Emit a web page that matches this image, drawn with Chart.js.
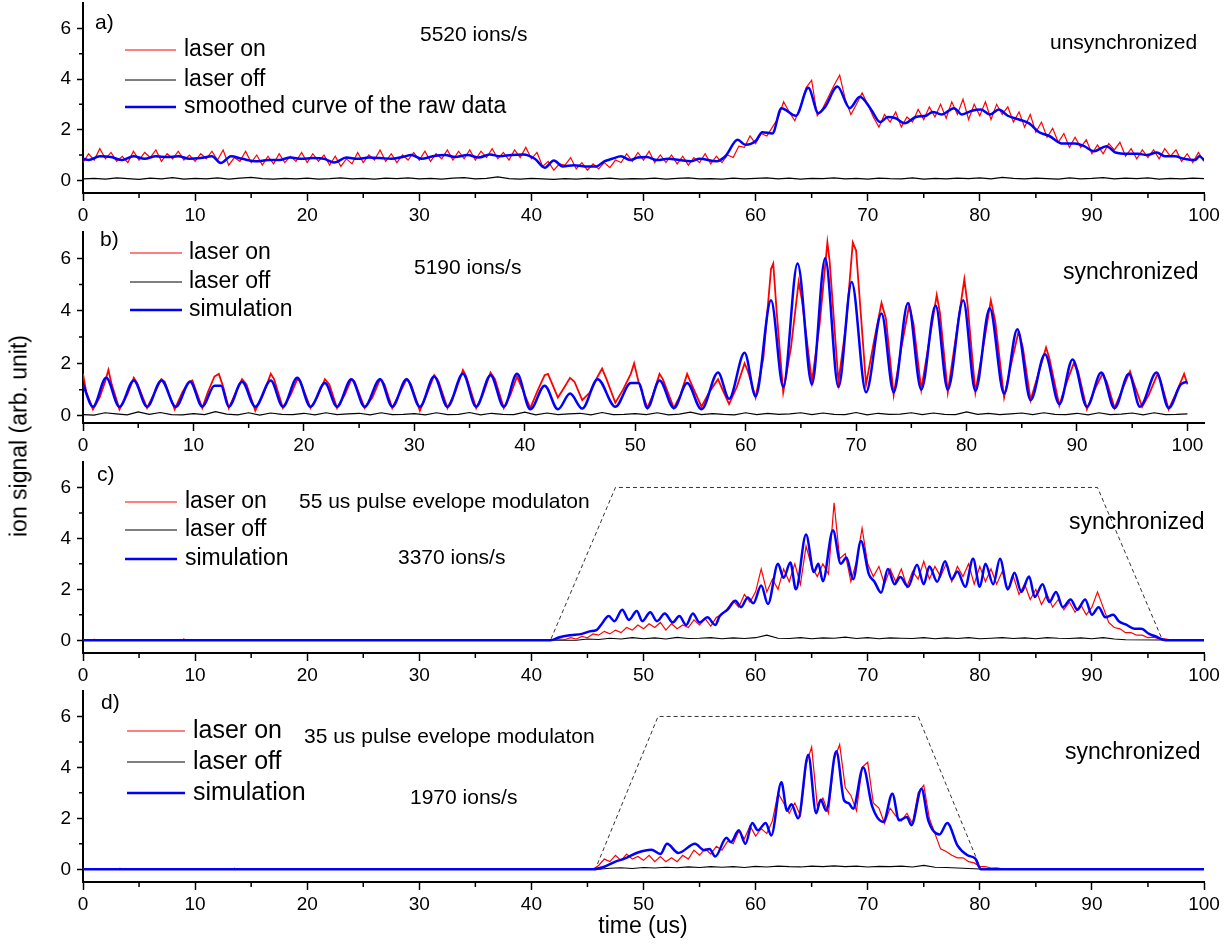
<!DOCTYPE html>
<html>
<head>
<meta charset="utf-8">
<script src="https://cdn.jsdelivr.net/npm/chart.js@4.4.1/dist/chart.umd.min.js"></script>
<style>
  body { margin: 0; background: #fff; }
  #wrap { position: relative; width: 1226px; height: 944px; font-family: 'Liberation Sans', Arial, sans-serif; }
  #wrap canvas { position: absolute; left: 0; }
  .ytitle { position: absolute; left: 19px; top: 436px; transform: translate(-50%, -50%) rotate(-90deg); font-size: 23px; white-space: nowrap; }
  .xtitle { position: absolute; left: 643px; top: 925px; transform: translate(-50%, -50%); font-size: 23px; white-space: nowrap; }
</style>
</head>
<body>
<div id="wrap">
  <canvas id="pa" width="1226" height="225" style="top:0px"></canvas>
  <canvas id="pb" width="1226" height="230" style="top:225px"></canvas>
  <canvas id="pc" width="1226" height="230" style="top:455px"></canvas>
  <canvas id="pd" width="1226" height="230" style="top:685px"></canvas>
  <div class="ytitle">ion signal (arb. unit)</div>
  <div class="xtitle">time (us)</div>
</div>
<script>
const FONT = "'Liberation Sans', Arial, sans-serif";

// ---- panel a) unsynchronized ----
// laser on, every 0.5 us from 0 to 100
const aOn = [
  0.7,1.05,0.8,1.25,0.85,1.1,0.75,0.95,0.7,1.15,0.8,1.1,0.9,1.2,0.75,1.05,0.85,1.15,0.8,1.0,
  0.75,1.05,0.85,1.15,0.8,1.2,0.6,0.9,0.75,1.15,0.7,1.0,0.6,0.95,0.65,1.05,0.7,0.95,0.75,1.1,
  0.7,1.05,0.75,1.0,0.6,0.95,0.55,0.85,0.65,1.1,0.7,1.0,0.8,1.2,0.75,1.05,0.7,1.0,0.8,1.1,
  0.8,1.15,0.75,1.05,0.85,1.2,0.8,1.15,0.85,1.2,0.8,1.15,0.9,1.25,0.85,1.1,0.8,1.2,0.9,1.3,
  0.85,1.1,0.55,0.75,0.4,0.65,0.6,0.9,0.45,0.7,0.4,0.65,0.45,0.7,0.5,0.8,0.7,1.05,0.75,1.1,
  0.8,1.15,0.7,1.0,0.7,1.0,0.65,0.95,0.6,0.9,0.7,1.05,0.65,0.95,0.7,1.0,0.9,1.35,1.3,1.75,
  1.45,1.85,1.75,2.1,2.45,3.1,2.7,2.35,2.9,3.65,3.95,2.55,2.85,3.3,3.75,4.15,3.2,2.6,3.0,3.45,
  3.0,2.5,2.1,2.6,2.3,2.7,2.1,2.5,2.3,2.8,2.4,2.9,2.5,3.0,2.45,3.1,2.6,3.2,2.4,3.0,
  2.55,3.1,2.4,3.0,2.6,2.9,2.3,2.7,2.1,2.6,1.9,2.3,1.7,2.05,1.5,1.85,1.3,1.7,1.3,1.6,
  1.05,1.4,1.05,1.45,1.2,1.5,0.95,1.25,0.85,1.2,0.9,1.2,0.85,1.25,0.95,1.2,0.75,1.05,0.7,1.1,0.75
];
// laser off, every 1 us
const aOff = [
  0.06,0.08,0.05,0.1,0.07,0.04,0.09,0.06,0.11,0.05,0.08,0.06,0.1,0.05,0.09,0.12,0.07,0.05,0.08,0.06,
  0.09,0.05,0.07,0.1,0.06,0.08,0.05,0.09,0.07,0.1,0.06,0.08,0.05,0.09,0.11,0.06,0.08,0.14,0.07,0.05,
  0.08,0.06,0.04,0.07,0.05,0.08,0.06,0.09,0.05,0.07,0.06,0.09,0.05,0.08,0.1,0.06,0.07,0.05,0.09,0.06,
  0.08,0.1,0.06,0.09,0.05,0.08,0.07,0.1,0.06,0.08,0.05,0.09,0.07,0.06,0.1,0.05,0.08,0.06,0.09,0.07,
  0.1,0.06,0.12,0.08,0.06,0.09,0.07,0.05,0.1,0.06,0.08,0.11,0.06,0.09,0.07,0.1,0.05,0.08,0.06,0.09,0.07
];
// smoothed curve [time, signal]
const aSmooth = [
  [0,0.85],[0.5,0.8],[1.5,0.95],[2.5,0.92],[3.5,0.8],[4.5,0.95],[5.5,0.85],[6.5,0.95],[7.5,0.92],[8.5,0.95],
  [9.5,0.85],[10.5,0.88],[11.5,0.95],[12.3,0.68],[13.2,0.95],[14.2,0.85],[15.5,0.75],[16.5,0.8],[17.5,0.8],[18.5,0.9],
  [19.5,0.85],[20.5,0.88],[21.5,0.85],[22.4,0.7],[23.5,0.9],[24.5,0.85],[25.5,0.9],[26.5,0.88],[27.5,0.85],[28.5,0.92],
  [29.3,1.0],[30.2,0.85],[31.2,0.95],[32.3,1.0],[33.2,0.92],[34.3,1.0],[35.3,0.9],[36.3,1.02],[37.2,0.95],[38.2,1.0],
  [39.3,1.02],[40.3,0.85],[41.2,0.5],[42.0,0.78],[42.8,0.55],[43.8,0.6],[44.8,0.55],[45.8,0.55],[46.5,0.75],[47.2,0.85],
  [48.0,0.95],[48.8,0.8],[49.5,0.9],[50.3,0.92],[51.2,0.8],[52.2,0.85],[53.2,0.8],[54.2,0.75],[55,0.85],[56.5,0.75],
  [57.3,0.95],[58.4,1.6],[59.1,1.4],[60,1.55],[60.6,1.9],[61.5,1.85],[62.3,2.85],[63.6,2.55],[64.7,3.65],[65.6,2.65],
  [66.2,2.9],[67.3,3.7],[68.4,2.85],[69.3,3.3],[70.3,2.8],[71.1,2.3],[71.8,2.5],[72.5,2.45],[73.3,2.25],[74.3,2.5],
  [75.2,2.55],[75.8,2.7],[76.6,2.6],[77.7,2.85],[78.4,2.6],[79.3,2.75],[80.1,2.8],[80.9,2.6],[81.7,2.8],[82.5,2.55],
  [83.5,2.4],[84.4,2.25],[85.3,1.9],[86.2,1.75],[87.4,1.45],[88.5,1.45],[89.3,1.35],[90.2,1.15],[91.3,1.35],[92.1,1.1],
  [93.2,1.05],[94.1,1.05],[94.9,1.0],[95.8,1.1],[96.5,0.95],[97.4,0.95],[98.2,0.85],[99.2,0.8],[99.6,0.95],[100,0.8]
];

// ---- panel b) synchronized ----
const bOn = [
  [0,1.6],[0.3,0.9],[0.9,0.25],[1.5,0.7],[2.0,1.3],[2.3,1.75],[2.6,1.2],[3.3,0.25],
  [4.0,0.8],[4.6,1.45],[4.9,1.25],[5.8,0.3],[6.5,0.9],[7.1,1.4],[7.4,1.3],[8.3,0.25],
  [9.0,0.9],[9.6,1.3],[9.9,1.35],[10.8,0.3],[11.3,0.9],[11.9,1.5],[12.3,1.6],[12.7,1.1],[13.2,0.3],
  [13.9,0.95],[14.4,1.4],[14.8,1.2],[15.6,0.2],[16.3,0.8],[17.0,1.6],[17.3,1.4],[18.1,0.3],
  [18.8,0.8],[19.4,1.4],[19.7,1.3],[20.6,0.3],[21.2,0.7],[21.9,1.4],[22.3,1.2],[23.0,0.3],
  [23.7,0.8],[24.3,1.4],[24.6,1.3],[25.5,0.3],[26.2,0.7],[26.9,1.4],[27.3,1.2],[28.0,0.3],
  [28.6,0.8],[29.3,1.4],[29.7,1.2],[30.5,0.2],[31.2,0.9],[31.8,1.55],[32.2,1.3],[33.0,0.3],
  [33.7,0.9],[34.4,1.75],[34.7,1.5],[35.6,0.3],[36.2,0.8],[36.9,1.65],[37.3,1.4],[38.1,0.3],
  [38.7,0.8],[39.3,1.5],[39.7,1.1],[40.5,0.3],[41.2,1.0],[41.8,1.55],[42.1,1.6],[42.5,1.2],[43.0,0.7],
  [43.6,1.1],[44.1,1.45],[44.5,1.3],[45.2,0.6],[45.9,0.9],[46.6,1.5],[47.0,1.8],[47.4,1.4],[48.2,0.5],
  [48.9,1.0],[49.6,1.6],[49.9,2.0],[50.3,1.3],[51.1,0.3],[51.6,0.8],[52.2,1.6],[52.5,1.4],[53.5,0.3],
  [54.1,0.8],[54.7,1.6],[55.1,1.2],[56.0,0.35],[56.7,0.9],[57.5,1.4],[57.9,1.0],[58.5,0.45],
  [59.2,1.1],[59.9,2.0],[60.2,1.7],[60.9,0.7],[61.6,2.2],[62.3,5.6],[62.5,5.8],[62.8,4.0],[63.4,0.9],
  [64.1,2.6],[64.8,5.1],[65.1,4.4],[66.0,1.3],[66.7,3.5],[67.4,6.6],[67.6,5.9],[68.4,1.3],
  [69.1,3.5],[69.7,6.6],[70.0,6.3],[70.9,1.2],[71.6,2.8],[72.3,4.3],[72.7,3.7],[73.4,0.8],
  [74.1,2.6],[74.8,4.2],[75.2,3.5],[75.9,1.0],[76.6,2.8],[77.3,4.6],[77.6,3.9],[78.3,0.9],
  [79.0,2.9],[79.8,5.2],[80.1,4.2],[80.8,0.9],[81.5,2.6],[82.2,4.4],[82.6,3.6],[83.4,0.7],
  [84.0,1.9],[84.7,3.2],[85.1,2.6],[85.8,0.6],[86.5,1.6],[87.2,2.6],[87.5,2.2],[88.4,0.4],
  [89.0,1.2],[89.7,2.0],[90.1,1.7],[90.9,0.25],[91.6,1.0],[92.3,1.6],[92.7,1.3],[93.4,0.3],
  [94.0,0.9],[94.8,1.7],[95.1,1.3],[95.9,0.35],[96.5,0.8],[97.3,1.6],[97.6,1.3],[98.3,0.25],
  [98.9,0.8],[99.4,1.3],[99.7,1.6],[100,1.2]
];
const bOff = [
  0.05,0.03,0.12,0.08,0.04,0.15,0.06,0.13,0.05,0.04,0.09,0.05,0.16,0.07,0.04,0.12,0.03,0.11,0.06,0.05,
  0.1,0.04,0.12,0.05,0.08,0.1,0.04,0.12,0.05,0.06,0.09,0.04,0.12,0.05,0.06,0.13,0.04,0.1,0.06,0.05,
  0.14,0.04,0.11,0.05,0.08,0.1,0.04,0.13,0.05,0.06,0.09,0.05,0.12,0.04,0.07,0.14,0.05,0.09,0.06,0.04,
  0.12,0.05,0.1,0.06,0.08,0.12,0.05,0.11,0.06,0.05,0.13,0.04,0.1,0.06,0.07,0.12,0.05,0.11,0.06,0.05,
  0.15,0.06,0.1,0.05,0.08,0.11,0.05,0.12,0.06,0.05,0.1,0.04,0.12,0.05,0.07,0.11,0.04,0.12,0.05,0.06,0.08
];
const bSim = [
  [0,1.2],[0.9,0.35],[2.1,1.45],[3.3,0.35],[4.6,1.35],[5.8,0.35],[7.1,1.35],[8.4,0.35],[9.7,1.3],[10.8,0.35],
  [11.9,1.15],[12.5,1.15],[13.2,0.35],[14.4,1.3],[15.6,0.35],[17.0,1.35],[18.1,0.35],[19.4,1.45],[20.6,0.35],[21.9,1.25],
  [23.0,0.35],[24.3,1.4],[25.5,0.35],[26.9,1.4],[28.0,0.35],[29.3,1.4],[30.5,0.35],[31.8,1.5],[33.0,0.35],[34.4,1.6],
  [35.6,0.35],[36.9,1.55],[38.1,0.35],[39.3,1.6],[40.5,0.25],[41.8,1.15],[43.0,0.25],[44.1,0.85],[45.2,0.28],[46.6,1.4],
  [48.2,0.35],[49.6,1.25],[50.3,1.25],[51.1,0.3],[52.2,1.35],[53.5,0.3],[54.7,1.25],[56.0,0.25],[57.5,1.65],[58.5,0.65],
  [59.9,2.4],[60.9,0.75],[62.3,4.4],[63.4,1.1],[64.7,5.8],[66.0,1.2],[67.2,6.0],[68.4,1.1],[69.6,5.1],[70.9,0.9],
  [72.3,3.9],[73.4,0.9],[74.7,4.3],[75.9,1.0],[77.2,4.2],[78.3,1.0],[79.7,4.4],[80.8,0.95],[82.1,4.1],[83.4,0.85],
  [84.6,3.3],[85.8,0.6],[87.1,2.35],[88.4,0.45],[89.6,2.15],[90.9,0.35],[92.2,1.65],[93.4,0.3],[94.7,1.6],[95.7,0.35],
  [97.2,1.65],[98.3,0.3],[99.4,1.2],[100,1.3]
];

// ---- panel c) 55 us envelope ----
// laser on, every 0.5 us from 41.5 to 96.5
const cOn = [
  0,0.02,0.05,0.03,0.1,0.05,0.15,0.1,0.25,0.2,0.35,0.25,0.4,0.3,0.5,0.4,0.6,0.45,0.65,0.5,
  0.7,0.4,0.65,0.45,0.6,0.5,0.8,0.6,0.85,0.55,0.9,1.0,1.25,1.55,1.3,1.8,1.5,1.9,2.8,1.9,
  2.4,2.0,2.8,2.3,3.0,2.2,3.7,2.9,2.5,3.0,2.6,5.4,3.2,3.4,2.3,3.1,4.4,3.0,2.5,2.9,
  2.2,2.8,2.3,2.8,2.1,2.7,2.4,3.1,2.4,2.9,2.5,3.0,2.3,2.9,2.5,3.0,2.2,2.9,2.3,2.8,
  2.2,2.7,2.0,2.5,1.8,2.2,1.6,2.0,1.4,1.8,1.3,1.6,1.2,1.5,1.1,1.4,1.0,1.3,1.9,1.3,
  0.7,0.5,0.45,0.3,0.3,0.2,0.2,0.1,0.12,0.05,0.06
];
const cOnTail = [[97,0.02],[98,0.03],[99,0.01],[100,0.02]];
// laser off, every 1 us from 44 to 93
const cOff = [
  0,0.05,0.03,0.08,0.05,0.1,0.06,0.09,0.05,0.11,0.07,0.08,0.1,0.06,0.09,0.07,0.1,0.2,0.08,0.07,
  0.1,0.06,0.09,0.08,0.12,0.07,0.1,0.06,0.09,0.08,0.07,0.1,0.06,0.09,0.07,0.1,0.06,0.08,0.1,0.07,
  0.09,0.06,0.1,0.08,0.07,0.09,0.06,0.1,0.05,0.02
];
const cSim = [
  [0,0],[41.7,0],[42.5,0.12],[43.5,0.2],[44.5,0.25],[45.2,0.35],[45.8,0.4],[46.2,0.6],[46.9,0.95],[47.4,0.75],
  [48.1,1.2],[48.7,0.8],[49.4,1.15],[49.9,0.75],[50.6,1.1],[51.2,0.75],[51.9,1.05],[52.6,0.7],[53.2,0.95],[53.8,0.6],
  [54.4,1.05],[55.0,0.7],[55.7,0.9],[56.4,0.6],[56.8,0.95],[57.5,1.2],[58.2,1.55],[58.7,1.3],[59.3,1.68],[59.8,1.45],
  [60.5,2.15],[61.1,1.42],[62.0,3.0],[62.5,2.45],[63.1,3.05],[63.6,2.0],[64.5,4.15],[65.2,2.68],[65.6,3.0],[66.0,2.32],
  [66.9,4.32],[67.6,3.0],[68.1,3.25],[68.7,2.4],[69.4,3.9],[70.1,2.6],[70.6,2.3],[71.2,1.87],[71.8,2.8],[72.4,2.2],
  [72.9,2.48],[73.6,2.1],[74.4,2.97],[75.0,2.2],[75.5,2.9],[76.2,2.3],[76.9,3.1],[77.5,2.4],[78.0,2.7],[78.7,2.1],
  [79.4,3.2],[80.0,2.1],[80.5,3.0],[81.2,2.2],[81.8,3.2],[82.5,2.0],[83.1,2.65],[83.7,1.9],[84.4,2.5],[84.9,1.7],
  [85.6,2.2],[86.2,1.5],[86.8,1.9],[87.4,1.3],[88.1,1.6],[88.7,1.2],[89.4,1.6],[90.0,1.0],[90.6,1.3],[91.2,0.9],
  [91.9,1.0],[92.4,0.75],[93.1,0.6],[93.8,0.45],[94.4,0.45],[95.1,0.25],[95.7,0.15],[96.3,0.03],[96.6,0],[100,0]
];
const cEnvelope = [[0,0],[41.7,0],[47.5,6],[90.5,6],[96.3,0],[100,0]];

// ---- panel d) 35 us envelope ----
// laser on, every 0.5 us from 45.5 to 82
const dOn = [
  0,0.15,0.4,0.3,0.55,0.35,0.6,0.4,0.5,0.35,0.55,0.3,0.5,0.3,0.45,0.3,0.55,0.4,0.75,0.55,
  0.8,0.6,0.9,0.75,1.1,1.0,1.5,1.2,1.7,1.3,1.6,1.4,1.9,3.0,2.6,2.2,2.6,2.1,4.1,4.8,
  2.5,2.8,2.2,4.3,4.9,3.2,2.9,2.3,4.0,4.2,2.6,2.4,1.8,2.4,2.1,1.9,2.2,1.8,3.0,3.3,
  2.0,1.4,0.8,0.7,0.55,0.45,0.45,0.3,0.25,0.1,0.1,0.05,0.06,0.02
];
// laser off, every 1 us from 46 to 80
const dOff = [
  0,0.04,0.06,0.03,0.07,0.05,0.08,0.06,0.09,0.07,0.1,0.08,0.1,0.07,0.11,0.09,0.12,0.1,0.09,0.12,
  0.1,0.13,0.1,0.12,0.09,0.11,0.1,0.12,0.09,0.15,0.08,0.07,0.05,0.03,0.01
];
const dSim = [
  [0,0],[45.5,0],[46.5,0.1],[47.5,0.3],[48.3,0.42],[49.5,0.66],[50.7,0.77],[51.5,0.6],[52.1,1.0],[53.1,0.64],
  [54.6,1.0],[55.4,0.75],[55.9,0.8],[56.4,0.5],[57.4,1.24],[57.8,1.07],[58.5,1.53],[59.1,1.0],[59.7,1.82],[60.2,1.53],
  [60.9,1.82],[61.4,1.33],[62.3,3.42],[62.8,2.3],[63.2,2.55],[63.8,2.0],[64.7,4.5],[65.4,2.2],[65.8,2.73],[66.3,2.3],
  [67.2,4.63],[67.9,2.7],[68.3,2.6],[68.7,2.38],[69.6,4.0],[70.4,2.47],[71.4,1.86],[72.2,2.97],[72.8,1.92],[73.5,2.05],
  [73.9,1.73],[74.8,3.16],[75.4,1.92],[76.4,1.37],[77.1,1.82],[78.0,0.94],[78.9,0.55],[79.6,0.42],[80.1,0],[100,0]
];
const dEnvelope = [[0,0],[45.7,0],[51.3,6],[74.5,6],[80.1,0],[100,0]];

const yTicks = [0, 2, 4, 6];
const xTickStep = 10;
const legendWidths = [1, 1, 2.5];

function pts(pairs) { return pairs.map(p => ({ x: p[0], y: p[1] })); }
function steps(t0, dt, vals) { return vals.map((v, i) => ({ x: t0 + i * dt, y: v })); }

// minor ticks, legend and text notes
const extras = {
  id: 'extras',
  afterDraw(chart, args, o) {
    const ctx = chart.ctx;
    const xs = chart.scales.x, ys = chart.scales.y;
    ctx.save();
    ctx.strokeStyle = '#000';
    ctx.lineWidth = 1.5;
    ctx.beginPath();
    for (let v = 5; v < 100; v += 10) {
      const px = xs.getPixelForValue(v);
      ctx.moveTo(px, xs.top); ctx.lineTo(px, xs.top + 5);
    }
    for (let v = 1; v < 7; v += 2) {
      const py = ys.getPixelForValue(v);
      ctx.moveTo(ys.right - 4, py); ctx.lineTo(ys.right, py);
    }
    ctx.stroke();

    const lg = o.legend;
    ctx.textBaseline = 'middle';
    ctx.fillStyle = '#000';
    ctx.font = lg.size + 'px ' + FONT;
    lg.rows.forEach((ry, i) => {
      const ds = chart.data.datasets[i];
      const y = ry - o.top;
      ctx.strokeStyle = ds.borderColor;
      ctx.lineWidth = legendWidths[i];
      ctx.beginPath(); ctx.moveTo(lg.x1, y); ctx.lineTo(lg.x2, y); ctx.stroke();
      ctx.fillText(ds.label, lg.tx, y);
    });
    o.notes.forEach(n => {
      ctx.font = n.size + 'px ' + FONT;
      ctx.fillText(n.text, n.x, n.y - o.top);
    });
    ctx.restore();
  }
};

function panel(id, top, h, areaTop, areaBottom, yMin, xMax, datasets, legend, notes) {
  const xAxisH = 32;
  new Chart(document.getElementById(id), {
    type: 'line',
    data: { datasets },
    options: {
      responsive: false,
      animation: false,
      events: [],
      layout: { padding: { left: 0, right: 22, top: areaTop - top, bottom: h - (areaBottom - top) - xAxisH } },
      elements: { point: { radius: 0 }, line: { tension: 0 } },
      plugins: {
        legend: { display: false },
        tooltip: { enabled: false },
        extras: { top, legend, notes }
      },
      scales: {
        x: {
          type: 'linear', min: 0, max: xMax,
          ticks: { stepSize: xTickStep, includeBounds: false, color: '#000', padding: 3, maxRotation: 0,
                   font: { family: FONT, size: 19 } },
          grid: { drawOnChartArea: false, drawTicks: true, tickLength: 8, tickColor: '#000', tickWidth: 1.5 },
          border: { color: '#000', width: 2 },
          afterFit(s) { s.height = xAxisH; s.paddingLeft = 0; s.paddingRight = 0; }
        },
        y: {
          type: 'linear', min: yMin, max: 7,
          afterBuildTicks(s) { s.ticks = yTicks.map(v => ({ value: v })); },
          ticks: { color: '#000', padding: 6, font: { family: FONT, size: 19 } },
          grid: { drawOnChartArea: false, drawTicks: true, tickLength: 6, tickColor: '#000', tickWidth: 1.5 },
          border: { color: '#000', width: 2 },
          afterFit(s) { s.width = 83; s.paddingTop = 0; s.paddingBottom = 0; }
        }
      }
    },
    plugins: [extras]
  });
}

function red(data, label, w) { return { label, data, borderColor: '#ff0000', borderWidth: w || 1.2, order: 1 }; }
function black(data) { return { label: 'laser off', data, borderColor: '#000000', borderWidth: 1.2, order: 2 }; }
function blue(data, label) {
  return { label, data, borderColor: '#0000ff', borderWidth: 2.5, order: 0, cubicInterpolationMode: 'monotone' };
}
function envelope(data) {
  return { label: 'envelope', data, borderColor: '#333333', borderWidth: 1, borderDash: [4, 3], order: 3 };
}

panel('pa', 0, 225, 3, 193, -0.5, 100, [
  red(steps(0, 0.5, aOn), 'laser on'),
  black(steps(0, 1, aOff)),
  blue(pts(aSmooth), 'smoothed curve of the raw data')
], { x1: 125, x2: 176, tx: 184, rows: [50, 80, 107], size: 23 }, [
  { text: 'a)', x: 95, y: 23, size: 21 },
  { text: '5520 ions/s', x: 420, y: 35, size: 21 },
  { text: 'unsynchronized', x: 1050, y: 43, size: 21 }
]);

panel('pb', 225, 230, 232, 423, -0.27, 101.5, [
  red(pts(bOn), 'laser on', 1.8),
  black(steps(0, 1, bOff)),
  blue(pts(bSim), 'simulation')
], { x1: 130, x2: 182, tx: 189, rows: [253, 282, 310], size: 23 }, [
  { text: 'b)', x: 100, y: 240, size: 21 },
  { text: '5190 ions/s', x: 414, y: 268, size: 21 },
  { text: 'synchronized', x: 1063, y: 273, size: 23 }
]);

panel('pc', 455, 230, 462, 653, -0.5, 100, [
  red([{ x: 0, y: 0 }, { x: 0.9, y: 0 }, { x: 1.0, y: 0.04 }, { x: 1.1, y: 0 }, { x: 8.9, y: 0 }, { x: 9.0, y: 0.05 },
       { x: 9.1, y: 0 }].concat(steps(41.5, 0.5, cOn), pts(cOnTail)), 'laser on'),
  black([{ x: 0, y: 0 }].concat(steps(44, 1, cOff), [{ x: 100, y: 0 }])),
  blue(pts(cSim), 'simulation'),
  envelope(pts(cEnvelope))
], { x1: 125, x2: 177, tx: 185, rows: [502, 530, 559], size: 23 }, [
  { text: 'c)', x: 97, y: 475, size: 21 },
  { text: '55 us pulse evelope modulaton', x: 299, y: 502, size: 21 },
  { text: '3370 ions/s', x: 398, y: 558, size: 21 },
  { text: 'synchronized', x: 1069, y: 523, size: 23 }
]);

panel('pd', 685, 230, 691, 882, -0.5, 100, [
  red([{ x: 0, y: 0 }, { x: 3.2, y: 0 }, { x: 3.3, y: 0.04 }, { x: 3.4, y: 0 }, { x: 13.4, y: 0 }, { x: 13.5, y: 0.04 },
       { x: 13.6, y: 0 }].concat(steps(45.5, 0.5, dOn), [{ x: 100, y: 0 }]), 'laser on'),
  black([{ x: 0, y: 0 }].concat(steps(46, 1, dOff), [{ x: 100, y: 0 }])),
  blue(pts(dSim), 'simulation'),
  envelope(pts(dEnvelope))
], { x1: 127, x2: 185, tx: 193, rows: [731, 762, 793], size: 25 }, [
  { text: 'd)', x: 101, y: 703, size: 21 },
  { text: '35 us pulse evelope modulaton', x: 304, y: 737, size: 21 },
  { text: '1970 ions/s', x: 410, y: 798, size: 21 },
  { text: 'synchronized', x: 1065, y: 753, size: 23 }
]);
</script>
</body>
</html>
